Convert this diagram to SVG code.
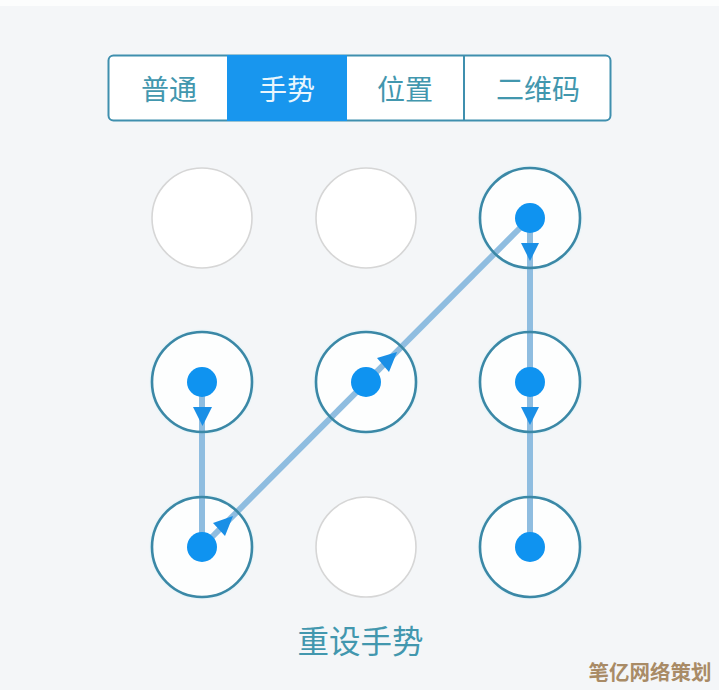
<svg xmlns="http://www.w3.org/2000/svg" width="719" height="690" viewBox="0 0 719 690">
<defs>
<style>
text{font-family:"Noto Sans CJK SC","Noto Sans",sans-serif;text-anchor:middle}
.tab{font-size:28px;fill:#4297ae}
.on{font-size:28px;fill:#e9f6fd}
.disc{fill:#fdfefe;filter:url(#glow)}
.ring{fill:none;stroke:#3b88a6;stroke-width:2.6}
.idle{fill:#fff;stroke:#d6d6d6;stroke-width:1.6}
.dot{fill:#0f93f0}
.lk{stroke:#8fbde0;stroke-width:6;fill:none}
.head{fill:#1a8fe6}
</style>
<filter id="glow" x="-10%" y="-10%" width="120%" height="120%"><feDropShadow dx="0" dy="0" stdDeviation="1.5" flood-color="#6fdcfc"/></filter>
</defs>
<rect width="719" height="690" fill="#f4f6f8"/>
<rect width="719" height="6" fill="#fcfdfd"/>
<g id="tabs">
<rect x="108.500" y="55.500" width="502" height="65" rx="5" fill="#fff" stroke="#3f8fae" stroke-width="2"/>
<rect x="227" y="55" width="120" height="66" fill="#1896ee"/>
<line x1="464" y1="55" x2="464" y2="121" stroke="#3f8fae" stroke-width="2"/>
<text class="tab" x="169" y="100">普通</text>
<text class="on" x="287" y="100">手势</text>
<text class="tab" x="405" y="100">位置</text>
<text class="tab" x="538" y="100">二维码</text>
</g>
<g id="discs">
<circle class="disc" cx="530" cy="218" r="50"/>
<circle class="disc" cx="202" cy="382" r="50"/>
<circle class="disc" cx="366" cy="382" r="50"/>
<circle class="disc" cx="530" cy="382" r="50"/>
<circle class="disc" cx="202" cy="547" r="50"/>
<circle class="disc" cx="530" cy="547" r="50"/>
</g>
<g id="connectors">
<line class="lk" x1="202" y1="382" x2="202" y2="547"/>
<line class="lk" x1="202" y1="547" x2="530" y2="218"/>
<line class="lk" x1="530" y1="218" x2="530" y2="547"/>
<polygon class="head" points="193,407 212,407 202.500,426"/>
<polygon class="head" points="213,523 233,516 225,536"/>
<polygon class="head" points="377,358 397,352 389,372"/>
<polygon class="head" points="521,243 539,243 530,261"/>
<polygon class="head" points="521,407 539,407 530,425"/>
</g>
<g id="node-1"><circle class="idle" cx="202" cy="218" r="50"/></g>
<g id="node-2"><circle class="idle" cx="366" cy="218" r="50"/></g>
<g id="node-3"><circle class="ring" cx="530" cy="218" r="50"/><circle class="dot" cx="530" cy="218" r="15"/></g>
<g id="node-4"><circle class="ring" cx="202" cy="382" r="50"/><circle class="dot" cx="202" cy="382" r="15"/></g>
<g id="node-5"><circle class="ring" cx="366" cy="382" r="50"/><circle class="dot" cx="366" cy="382" r="15"/></g>
<g id="node-6"><circle class="ring" cx="530" cy="382" r="50"/><circle class="dot" cx="530" cy="382" r="15"/></g>
<g id="node-7"><circle class="ring" cx="202" cy="547" r="50"/><circle class="dot" cx="202" cy="547" r="15"/></g>
<g id="node-8"><circle class="idle" cx="366" cy="547" r="50"/></g>
<g id="node-9"><circle class="ring" cx="530" cy="547" r="50"/><circle class="dot" cx="530" cy="547" r="15"/></g>
<text x="360.500" y="653" font-size="31.500" fill="#4297ae">重设手势</text>
<text x="650" y="680" font-size="20.500" font-weight="700" fill="#a98b66">笔亿网络策划</text>
</svg>
